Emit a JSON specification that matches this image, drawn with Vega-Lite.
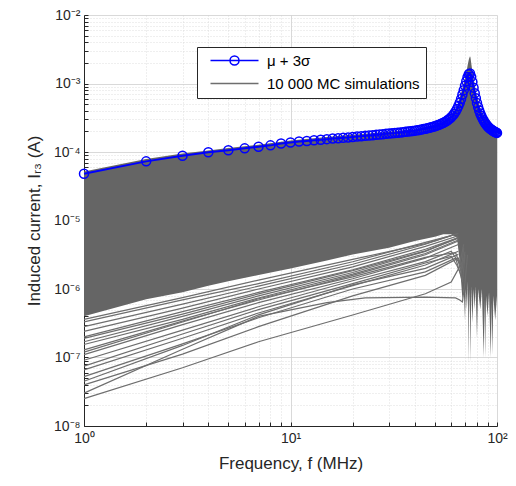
{
  "$schema": "https://vega.github.io/schema/vega-lite/v6.json",
  "width": 413,
  "height": 411,
  "autosize": "none",
  "padding": {"left": 84, "top": 15, "right": 19, "bottom": 60},
  "background": "white",
  "config": {
    "font": "Liberation Sans",
    "view": {"stroke": null},
    "axis": {
      "labelFont": "Liberation Sans",
      "titleFont": "Liberation Sans",
      "labelColor": "#262626",
      "titleColor": "#262626",
      "domainColor": "#262626",
      "tickColor": "#262626",
      "labelFontSize": 14,
      "titleFontSize": 17,
      "titleFontWeight": "normal",
      "domainWidth": 1,
      "tickWidth": 1
    }
  },
  "datasets": {
    "band": [
      {"f": 1, "v": 5.2e-5, "v2": 4.0e-7},
      {"f": 2, "v": 7.9e-5, "v2": 7.1e-7},
      {"f": 3, "v": 9.5e-5, "v2": 9.0e-7},
      {"f": 4, "v": 1.05e-4, "v2": 1.12e-6},
      {"f": 5, "v": 1.14e-4, "v2": 1.3e-6},
      {"f": 7, "v": 1.28e-4, "v2": 1.6e-6},
      {"f": 10, "v": 1.47e-4, "v2": 2.0e-6},
      {"f": 15, "v": 1.66e-4, "v2": 2.6e-6},
      {"f": 20, "v": 1.78e-4, "v2": 3.2e-6},
      {"f": 30, "v": 1.98e-4, "v2": 4.0e-6},
      {"f": 40, "v": 2.15e-4, "v2": 5.0e-6},
      {"f": 50, "v": 2.5e-4, "v2": 5.8e-6},
      {"f": 55, "v": 2.8e-4, "v2": 6.3e-6},
      {"f": 60, "v": 3.5e-4, "v2": 6.3e-6},
      {"f": 64, "v": 4.6e-4, "v2": 5.6e-6},
      {"f": 66, "v": 6.3e-4, "v2": 2.5e-6},
      {"f": 67, "v": 7.3e-4, "v2": 1.3e-6},
      {"f": 68, "v": 8.5e-4, "v2": 7.0e-7},
      {"f": 69, "v": 1.0e-3, "v2": 1.0e-6},
      {"f": 70, "v": 1.2e-3, "v2": 3.5e-7},
      {"f": 70.6, "v": 1.35e-3, "v2": 1.0e-6},
      {"f": 71.5, "v": 1.6e-3, "v2": 5.0e-7},
      {"f": 72.2, "v": 1.9e-3, "v2": 1.3e-6},
      {"f": 72.7, "v": 2.1e-3, "v2": 8.1e-8},
      {"f": 73.2, "v": 2.3e-3, "v2": 1.0e-6},
      {"f": 74, "v": 2.5e-3, "v2": 4.0e-7},
      {"f": 74.4, "v": 2.4e-3, "v2": 8.3e-8},
      {"f": 75, "v": 2.0e-3, "v2": 1.1e-6},
      {"f": 76, "v": 1.5e-3, "v2": 3.2e-7},
      {"f": 77, "v": 1.2e-3, "v2": 1.0e-6},
      {"f": 78, "v": 9.5e-4, "v2": 5.0e-7},
      {"f": 78.8, "v": 8.0e-4, "v2": 1.1e-6},
      {"f": 80, "v": 6.5e-4, "v2": 1.9e-7},
      {"f": 81, "v": 5.7e-4, "v2": 1.0e-6},
      {"f": 83, "v": 4.4e-4, "v2": 5.0e-7},
      {"f": 84.5, "v": 3.8e-4, "v2": 1.0e-6},
      {"f": 86.2, "v": 3.4e-4, "v2": 1.0e-7},
      {"f": 87, "v": 3.25e-4, "v2": 7.0e-7},
      {"f": 87.6, "v": 3.15e-4, "v2": 1.0e-7},
      {"f": 88.5, "v": 3.0e-4, "v2": 8.0e-7},
      {"f": 90, "v": 2.8e-4, "v2": 4.0e-7},
      {"f": 91.5, "v": 2.65e-4, "v2": 9.0e-7},
      {"f": 93.3, "v": 2.55e-4, "v2": 1.0e-7},
      {"f": 94.2, "v": 2.5e-4, "v2": 6.3e-7},
      {"f": 95, "v": 2.45e-4, "v2": 1.1e-7},
      {"f": 96, "v": 2.4e-4, "v2": 8.0e-7},
      {"f": 98, "v": 2.3e-4, "v2": 3.5e-7},
      {"f": 100, "v": 2.2e-4, "v2": 8.0e-7}
    ],
    "mc": [
      {"id": "L1", "f": 1, "v": 2.51e-8}, {"id": "L1", "f": 3, "v": 7.08e-8}, {"id": "L1", "f": 7, "v": 1.70e-7}, {"id": "L1", "f": 20, "v": 4.17e-7}, {"id": "L1", "f": 45, "v": 8.51e-7}, {"id": "L1", "f": 60, "v": 1.26e-6}, {"id": "L1", "f": 68, "v": 2.51e-6},
      {"id": "L2", "f": 1, "v": 3.02e-8}, {"id": "L2", "f": 3, "v": 1.32e-7}, {"id": "L2", "f": 7, "v": 3.98e-7}, {"id": "L2", "f": 15, "v": 6.31e-7}, {"id": "L2", "f": 23, "v": 7.41e-7}, {"id": "L2", "f": 45, "v": 7.59e-7}, {"id": "L2", "f": 63, "v": 7.41e-7}, {"id": "L2", "f": 66, "v": 6.92e-7}, {"id": "L2", "f": 68, "v": 6.46e-7}, {"id": "L2", "f": 70, "v": 1.26e-6}, {"id": "L2", "f": 72, "v": 3.16e-6},
      {"id": "L3", "f": 1, "v": 3.98e-8}, {"id": "L3", "f": 3, "v": 1.12e-7}, {"id": "L3", "f": 7, "v": 2.82e-7}, {"id": "L3", "f": 20, "v": 7.94e-7}, {"id": "L3", "f": 45, "v": 1.58e-6}, {"id": "L3", "f": 65, "v": 2.82e-6}, {"id": "L3", "f": 68, "v": 2.0e-6},
      {"id": "L4", "f": 1, "v": 5.25e-8}, {"id": "L4", "f": 3, "v": 1.58e-7}, {"id": "L4", "f": 7, "v": 3.80e-7}, {"id": "L4", "f": 20, "v": 1.0e-6}, {"id": "L4", "f": 45, "v": 1.78e-6}, {"id": "L4", "f": 63, "v": 2.82e-6}, {"id": "L4", "f": 66, "v": 1.78e-6}, {"id": "L4", "f": 68, "v": 1.26e-6}, {"id": "L4", "f": 70, "v": 3.16e-6},
      {"id": "L5", "f": 1, "v": 6.61e-8}, {"id": "L5", "f": 3, "v": 1.91e-7}, {"id": "L5", "f": 7, "v": 4.47e-7}, {"id": "L5", "f": 20, "v": 1.12e-6}, {"id": "L5", "f": 45, "v": 2.24e-6}, {"id": "L5", "f": 65, "v": 3.55e-6},
      {"id": "L6", "f": 1, "v": 9.12e-8}, {"id": "L6", "f": 3, "v": 2.51e-7}, {"id": "L6", "f": 7, "v": 5.50e-7}, {"id": "L6", "f": 20, "v": 1.32e-6}, {"id": "L6", "f": 45, "v": 2.51e-6}, {"id": "L6", "f": 60, "v": 3.55e-6}, {"id": "L6", "f": 65, "v": 2.51e-6}, {"id": "L6", "f": 67, "v": 1.78e-6}, {"id": "L6", "f": 69, "v": 3.98e-6},
      {"id": "L7", "f": 1, "v": 1.10e-7}, {"id": "L7", "f": 3, "v": 3.02e-7}, {"id": "L7", "f": 7, "v": 6.31e-7}, {"id": "L7", "f": 20, "v": 1.41e-6}, {"id": "L7", "f": 45, "v": 2.82e-6}, {"id": "L7", "f": 65, "v": 4.47e-6},
      {"id": "L8", "f": 1, "v": 1.29e-7}, {"id": "L8", "f": 3, "v": 3.39e-7}, {"id": "L8", "f": 7, "v": 6.92e-7}, {"id": "L8", "f": 20, "v": 1.58e-6}, {"id": "L8", "f": 45, "v": 3.16e-6}, {"id": "L8", "f": 65, "v": 5.01e-6},
      {"id": "L9", "f": 1, "v": 1.70e-7}, {"id": "L9", "f": 3, "v": 3.98e-7}, {"id": "L9", "f": 7, "v": 7.94e-7}, {"id": "L9", "f": 20, "v": 1.74e-6}, {"id": "L9", "f": 45, "v": 3.55e-6}, {"id": "L9", "f": 65, "v": 5.62e-6},
      {"id": "L10", "f": 1, "v": 2.0e-7}, {"id": "L10", "f": 3, "v": 4.68e-7}, {"id": "L10", "f": 7, "v": 8.91e-7}, {"id": "L10", "f": 20, "v": 1.91e-6}, {"id": "L10", "f": 45, "v": 3.80e-6}, {"id": "L10", "f": 65, "v": 5.62e-6},
      {"id": "L11", "f": 1, "v": 2.40e-7}, {"id": "L11", "f": 3, "v": 5.25e-7}, {"id": "L11", "f": 7, "v": 1.0e-6}, {"id": "L11", "f": 20, "v": 2.1e-6}, {"id": "L11", "f": 45, "v": 4.2e-6}, {"id": "L11", "f": 65, "v": 6.0e-6},
      {"id": "L12", "f": 1, "v": 2.82e-7}, {"id": "L12", "f": 3, "v": 6.03e-7}, {"id": "L12", "f": 7, "v": 1.10e-6}, {"id": "L12", "f": 20, "v": 2.3e-6}, {"id": "L12", "f": 45, "v": 4.5e-6}, {"id": "L12", "f": 60, "v": 6.0e-6},
      {"id": "L13", "f": 1, "v": 3.31e-7}, {"id": "L13", "f": 3, "v": 6.92e-7}, {"id": "L13", "f": 7, "v": 1.20e-6}, {"id": "L13", "f": 20, "v": 2.5e-6}, {"id": "L13", "f": 45, "v": 4.8e-6}, {"id": "L13", "f": 62, "v": 6.2e-6},
      {"id": "L14", "f": 1, "v": 4.5e-8}, {"id": "L14", "f": 3, "v": 1.5e-7}, {"id": "L14", "f": 7, "v": 4.2e-7}, {"id": "L14", "f": 20, "v": 1.15e-6}, {"id": "L14", "f": 45, "v": 2.0e-6}, {"id": "L14", "f": 65, "v": 3.2e-6},
      {"id": "L15", "f": 1, "v": 7.5e-8}, {"id": "L15", "f": 3, "v": 2.2e-7}, {"id": "L15", "f": 7, "v": 5.0e-7}, {"id": "L15", "f": 20, "v": 1.2e-6}, {"id": "L15", "f": 45, "v": 2.4e-6}, {"id": "L15", "f": 60, "v": 3.0e-6}, {"id": "L15", "f": 64, "v": 2.2e-6}, {"id": "L15", "f": 67, "v": 1.6e-6}, {"id": "L15", "f": 70, "v": 3.5e-6},
      {"id": "L16", "f": 1, "v": 1.55e-7}, {"id": "L16", "f": 3, "v": 3.6e-7}, {"id": "L16", "f": 7, "v": 7.4e-7}, {"id": "L16", "f": 20, "v": 1.65e-6}, {"id": "L16", "f": 45, "v": 3.3e-6}, {"id": "L16", "f": 65, "v": 5.2e-6},
      {"id": "L17", "f": 1, "v": 1.2e-7}, {"id": "L17", "f": 3, "v": 3.3e-7}, {"id": "L17", "f": 7, "v": 7.2e-7}, {"id": "L17", "f": 20, "v": 1.5e-6}, {"id": "L17", "f": 45, "v": 2.9e-6}, {"id": "L17", "f": 63, "v": 3.4e-6}, {"id": "L17", "f": 66, "v": 2.3e-6}, {"id": "L17", "f": 69, "v": 4.5e-6},
      {"id": "L18", "f": 1, "v": 3.6e-7}, {"id": "L18", "f": 3, "v": 7.5e-7}, {"id": "L18", "f": 7, "v": 1.35e-6}, {"id": "L18", "f": 20, "v": 2.7e-6}, {"id": "L18", "f": 45, "v": 4.6e-6}, {"id": "L18", "f": 65, "v": 6.5e-6},
      {"id": "L19", "f": 1, "v": 1.9e-7}, {"id": "L19", "f": 3, "v": 4.3e-7}, {"id": "L19", "f": 7, "v": 8.5e-7}, {"id": "L19", "f": 20, "v": 1.85e-6}, {"id": "L19", "f": 45, "v": 3.6e-6}, {"id": "L19", "f": 65, "v": 5.5e-6}
    ],
    "mean": [
      {"f": 1, "v": 4.8e-5}, {"f": 2, "v": 7.3e-5}, {"f": 3, "v": 8.8e-5}, {"f": 4, "v": 9.9e-5}, {"f": 5, "v": 1.06e-4},
      {"f": 6, "v": 1.13e-4}, {"f": 7, "v": 1.19e-4}, {"f": 8, "v": 1.25e-4}, {"f": 9, "v": 1.33e-4}, {"f": 10, "v": 1.38e-4},
      {"f": 11, "v": 1.42e-4}, {"f": 12, "v": 1.45e-4}, {"f": 13, "v": 1.48e-4}, {"f": 14, "v": 1.51e-4}, {"f": 15, "v": 1.54e-4},
      {"f": 16, "v": 1.57e-4}, {"f": 17, "v": 1.59e-4}, {"f": 18, "v": 1.61e-4}, {"f": 19, "v": 1.63e-4}, {"f": 20, "v": 1.66e-4},
      {"f": 21, "v": 1.68e-4}, {"f": 22, "v": 1.70e-4}, {"f": 23, "v": 1.72e-4}, {"f": 24, "v": 1.74e-4}, {"f": 25, "v": 1.76e-4},
      {"f": 26, "v": 1.78e-4}, {"f": 27, "v": 1.80e-4}, {"f": 28, "v": 1.82e-4}, {"f": 29, "v": 1.84e-4}, {"f": 30, "v": 1.86e-4},
      {"f": 31, "v": 1.88e-4}, {"f": 32, "v": 1.89e-4}, {"f": 33, "v": 1.91e-4}, {"f": 34, "v": 1.93e-4}, {"f": 35, "v": 1.95e-4},
      {"f": 36, "v": 1.97e-4}, {"f": 37, "v": 1.99e-4}, {"f": 38, "v": 2.01e-4}, {"f": 39, "v": 2.03e-4}, {"f": 40, "v": 2.05e-4},
      {"f": 41, "v": 2.08e-4}, {"f": 42, "v": 2.10e-4}, {"f": 43, "v": 2.13e-4}, {"f": 44, "v": 2.16e-4}, {"f": 45, "v": 2.19e-4},
      {"f": 46, "v": 2.22e-4}, {"f": 47, "v": 2.26e-4}, {"f": 48, "v": 2.30e-4}, {"f": 49, "v": 2.34e-4}, {"f": 50, "v": 2.38e-4},
      {"f": 51, "v": 2.43e-4}, {"f": 52, "v": 2.48e-4}, {"f": 53, "v": 2.54e-4}, {"f": 54, "v": 2.60e-4}, {"f": 55, "v": 2.67e-4},
      {"f": 56, "v": 2.75e-4}, {"f": 57, "v": 2.84e-4}, {"f": 58, "v": 2.95e-4}, {"f": 59, "v": 3.07e-4}, {"f": 60, "v": 3.22e-4},
      {"f": 61, "v": 3.40e-4}, {"f": 62, "v": 3.62e-4}, {"f": 63, "v": 3.90e-4}, {"f": 64, "v": 4.25e-4}, {"f": 65, "v": 4.70e-4},
      {"f": 66, "v": 5.25e-4}, {"f": 67, "v": 5.95e-4}, {"f": 68, "v": 6.9e-4}, {"f": 69, "v": 8.0e-4}, {"f": 70, "v": 9.3e-4},
      {"f": 71, "v": 1.08e-3}, {"f": 72, "v": 1.24e-3}, {"f": 73, "v": 1.37e-3}, {"f": 74, "v": 1.40e-3}, {"f": 75, "v": 1.25e-3},
      {"f": 76, "v": 1.05e-3}, {"f": 77, "v": 8.7e-4}, {"f": 78, "v": 7.2e-4}, {"f": 79, "v": 6.1e-4}, {"f": 80, "v": 5.2e-4},
      {"f": 81, "v": 4.55e-4}, {"f": 82, "v": 4.05e-4}, {"f": 83, "v": 3.65e-4}, {"f": 84, "v": 3.35e-4}, {"f": 85, "v": 3.1e-4},
      {"f": 86, "v": 2.9e-4}, {"f": 87, "v": 2.73e-4}, {"f": 88, "v": 2.6e-4}, {"f": 89, "v": 2.48e-4}, {"f": 90, "v": 2.38e-4},
      {"f": 91, "v": 2.3e-4}, {"f": 92, "v": 2.23e-4}, {"f": 93, "v": 2.17e-4}, {"f": 94, "v": 2.12e-4}, {"f": 95, "v": 2.07e-4},
      {"f": 96, "v": 2.03e-4}, {"f": 97, "v": 1.99e-4}, {"f": 98, "v": 1.96e-4}, {"f": 99, "v": 1.93e-4}, {"f": 100, "v": 1.9e-4}
    ]
  },
  "encoding": {
    "x": {
      "field": "f",
      "type": "quantitative",
      "scale": {"type": "log", "domain": [1, 100], "nice": false},
      "axis": {
        "title": "Frequency, f (MHz)",
        "titlePadding": 10,
        "values": [1, 2, 3, 4, 5, 6, 7, 8, 9, 10, 20, 30, 40, 50, 60, 70, 80, 90, 100],
        "labelExpr": "abs(log(datum.value)/LN10 - round(log(datum.value)/LN10)) < 1e-6 ? '10' + ['⁰','¹','²'][round(log(datum.value)/LN10)] : ''",
        "labelOverlap": false,
        "labelFlush": false,
        "labelBound": false,
        "tickSize": -4,
        "labelPadding": 9,
        "grid": true,
        "gridColor": {"condition": {"test": "abs(log(datum.value)/LN10 - round(log(datum.value)/LN10)) < 1e-6", "value": "#cfcfcf"}, "value": "#d6d6d6"},
        "gridDash": {"condition": {"test": "abs(log(datum.value)/LN10 - round(log(datum.value)/LN10)) < 1e-6", "value": []}, "value": [1, 2]},
        "gridWidth": 0.8
      }
    },
    "y": {
      "field": "v",
      "type": "quantitative",
      "scale": {"type": "log", "domain": [1e-8, 1e-2], "nice": false},
      "axis": {
        "title": "Induced current, Iᵣ₃ (A)",
        "titlePadding": 10,
        "values": [1e-8, 2e-8, 3e-8, 4e-8, 5e-8, 6e-8, 7e-8, 8e-8, 9e-8, 1e-7, 2e-7, 3e-7, 4e-7, 5e-7, 6e-7, 7e-7, 8e-7, 9e-7, 1e-6, 2e-6, 3e-6, 4e-6, 5e-6, 6e-6, 7e-6, 8e-6, 9e-6, 1e-5, 2e-5, 3e-5, 4e-5, 5e-5, 6e-5, 7e-5, 8e-5, 9e-5, 1e-4, 2e-4, 3e-4, 4e-4, 5e-4, 6e-4, 7e-4, 8e-4, 9e-4, 1e-3, 2e-3, 3e-3, 4e-3, 5e-3, 6e-3, 7e-3, 8e-3, 9e-3, 1e-2],
        "labelExpr": "abs(log(datum.value)/LN10 - round(log(datum.value)/LN10)) < 1e-6 ? '10⁻' + ['⁰','¹','²','³','⁴','⁵','⁶','⁷','⁸'][-round(log(datum.value)/LN10)] : ''",
        "labelOverlap": false,
        "labelFlush": false,
        "labelBound": false,
        "tickSize": -4,
        "labelPadding": 8,
        "grid": true,
        "gridColor": {"condition": {"test": "abs(log(datum.value)/LN10 - round(log(datum.value)/LN10)) < 1e-6", "value": "#cfcfcf"}, "value": "#d6d6d6"},
        "gridDash": {"condition": {"test": "abs(log(datum.value)/LN10 - round(log(datum.value)/LN10)) < 1e-6", "value": []}, "value": [1, 2]},
        "gridWidth": 0.8
      }
    }
  },
  "layer": [
    {
      "data": {"name": "band"},
      "mark": {"type": "area", "color": "#656565"},
      "encoding": {"y2": {"field": "v2"}}
    },
    {
      "data": {"name": "mc"},
      "mark": {"type": "line", "color": "#6e6e6e", "strokeWidth": 1.2},
      "encoding": {"detail": {"field": "id", "type": "nominal"}}
    },
    {
      "data": {"name": "mean"},
      "mark": {"type": "line", "strokeWidth": 2},
      "encoding": {
        "color": {
          "datum": "μ + 3σ",
          "type": "nominal",
          "scale": {"domain": ["μ + 3σ", "10 000 MC simulations"], "range": ["#0000ff", "#6e6e6e"]},
          "legend": {
            "title": null,
            "orient": "none",
            "legendX": 113,
            "legendY": 32,
            "strokeColor": "#262626",
            "fillColor": "white",
            "padding": 6,
            "rowPadding": 7,
            "labelFont": "Liberation Sans",
            "labelFontSize": 15,
            "labelColor": "#000000",
            "symbolSize": 100,
            "symbolOffset": 24,
            "labelOffset": 25,
            "encode": {
              "symbols": {
                "update": {
                  "shape": {"signal": "datum.value == 'μ + 3σ' ? 'M-4.8,0H4.8M0.9,0A0.9,0.9 0 1,1 -0.9,0A0.9,0.9 0 1,1 0.9,0' : 'M-4.8,0H4.8'"},
                  "strokeWidth": {"value": 1.5},
                  "fill": {"value": "transparent"},
                  "size": {"value": 100},
                  "opacity": {"value": 1}
                }
              }
            }
          }
        }
      }
    },
    {
      "data": {"name": "mean"},
      "mark": {"type": "point", "shape": "circle", "filled": false, "size": 81, "strokeWidth": 1.5, "opacity": 1},
      "encoding": {
        "color": {
          "datum": "μ + 3σ",
          "type": "nominal"
        }
      }
    }
  ]
}
